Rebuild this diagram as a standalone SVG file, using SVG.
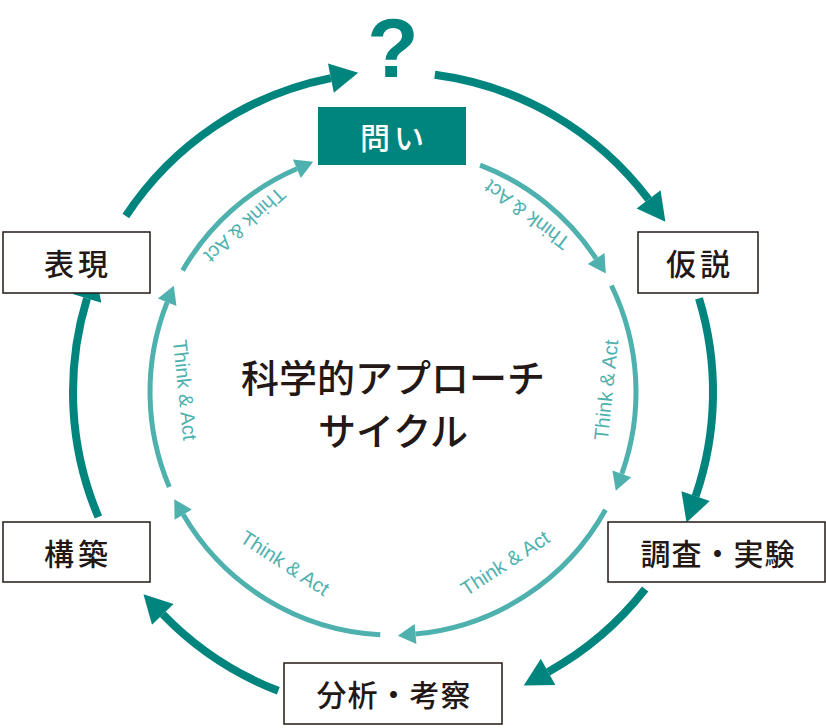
<svg xmlns="http://www.w3.org/2000/svg" width="826" height="728" viewBox="0 0 826 728">
<style>
.o{fill:none;stroke:#00847e;stroke-width:8;marker-end:url(#ao)}
.i{fill:none;stroke:#4eb1ae;stroke-width:5;marker-end:url(#ai)}
.box{fill:#fff;stroke:#231815;stroke-width:1.5}
.t{font-family:"Noto Sans CJK JP",sans-serif;font-size:30px;font-weight:500;letter-spacing:4px;fill:#231815;text-anchor:middle;dominant-baseline:central}
.c{font-family:"Noto Sans CJK JP",sans-serif;font-size:38px;font-weight:500;fill:#231815;text-anchor:middle;dominant-baseline:central}
.ta{font-family:"Liberation Sans",Arial,sans-serif;font-size:20px;fill:#4eb1ae;text-anchor:middle;dominant-baseline:central}
</style>
<defs>
<marker id="ao" markerUnits="userSpaceOnUse" markerWidth="30" markerHeight="30" refX="0" refY="14" orient="auto" viewBox="0 0 26 28"><path d="M0,0L26,14L0,28z" fill="#00847e"/></marker>
<marker id="ai" markerUnits="userSpaceOnUse" markerWidth="20" markerHeight="20" refX="0" refY="9" orient="auto" viewBox="0 0 16 18"><path d="M0,0L16,9L0,18z" fill="#4eb1ae"/></marker>
</defs>
<g id="connectors">
<path class="o" d="M125.8,216A320,320 0 0 1 330.9,78.1"/>
<path class="o" d="M434.8,74.8A320,320 0 0 1 648.6,199.4"/>
<path class="o" d="M699,298.4A320,320 0 0 1 695.6,496.2"/>
<path class="o" d="M645.2,589A320,320 0 0 1 548.1,671.9"/>
<path class="o" d="M278.3,690.8A320,320 0 0 1 162.8,614.3"/>
<path class="o" d="M98.4,517A320,320 0 0 1 87,298.4"/>
<path class="i" d="M480.1,165.1A243,243 0 0 1 596.1,258.6"/>
<path class="i" d="M611.4,285.5A243,243 0 0 1 621.8,473.9"/>
<path class="i" d="M605.5,509.8A243,243 0 0 1 415.5,634"/>
<path class="i" d="M380.3,634.7A243,243 0 0 1 183.2,514.6"/>
<path class="i" d="M169.3,486.9A243,243 0 0 1 167.2,302.2"/>
<path class="i" d="M182.6,270.5A243,243 0 0 1 296.9,168.8"/>
<text class="ta" transform="translate(527,215) rotate(-143)">Think &amp; Act</text>
<text class="ta" transform="translate(606,390) rotate(-84)">Think &amp; Act</text>
<text class="ta" transform="translate(505,563) rotate(-33)">Think &amp; Act</text>
<text class="ta" transform="translate(285,563) rotate(33)">Think &amp; Act</text>
<text class="ta" transform="translate(185,390) rotate(84)">Think &amp; Act</text>
<text class="ta" transform="translate(245,225) rotate(138)">Think &amp; Act</text>
</g>
<g id="q"><text x="393" y="48" font-family="Liberation Sans,Arial,sans-serif" font-size="84" font-weight="bold" fill="#00847e" text-anchor="middle" dominant-baseline="central">?</text></g>
<g id="toi"><rect x="318" y="107" width="148" height="58" fill="#00847e"/><text class="t" x="394" y="136" style="fill:#fff">問い</text></g>
<g id="kasetsu"><rect class="box" x="638" y="232" width="120" height="61"/><text class="t" x="700" y="262">仮説</text></g>
<g id="chosa"><rect class="box" x="608" y="522" width="217" height="60"/><text class="t" x="718" y="552" style="letter-spacing:1px">調査・実験</text></g>
<g id="bunseki"><rect class="box" x="284" y="663" width="218" height="61"/><text class="t" x="394" y="693" style="letter-spacing:1px">分析・考察</text></g>
<g id="kochiku"><rect class="box" x="3" y="522" width="147" height="60"/><text class="t" x="78" y="552">構築</text></g>
<g id="hyogen"><rect class="box" x="3" y="232" width="147" height="61"/><text class="t" x="78" y="262">表現</text></g>
<g id="center"><text class="c" x="393" y="375">科学的アプローチ</text><text class="c" x="393" y="428">サイクル</text></g>
</svg>
